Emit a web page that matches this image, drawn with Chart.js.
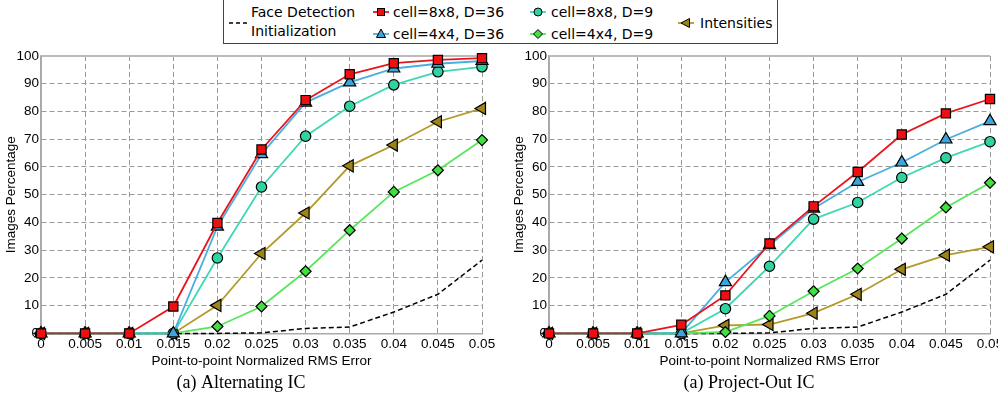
<!DOCTYPE html>
<html>
<head>
<meta charset="utf-8">
<script src="https://cdn.jsdelivr.net/npm/chart.js@4/dist/chart.umd.min.js"></script>
<style>
  body { margin: 0; width: 998px; height: 394px; overflow: hidden; background: #fff; position: relative; }
  canvas { position: absolute; top: 45px; }
  #legend { position: absolute; left: 223px; top: -2px; width: 555px; height: 46px; box-sizing: border-box;
            border: 1px solid #444; background: #fff; font-family: "DejaVu Sans"; font-size: 14px; color: #000; }
  #legend span { position: absolute; line-height: 16px; white-space: nowrap; }
  #legend svg { position: absolute; overflow: visible; }
</style>
</head>
<body>
<div id="legend"></div>
<canvas id="leftChart" width="500" height="349" style="left:0px"></canvas>
<canvas id="rightChart" width="500" height="349" style="left:508px"></canvas>
<script>
// x values (normalized RMS error) and tick labels
var errors = [0, 0.005, 0.01, 0.015, 0.02, 0.025, 0.03, 0.035, 0.04, 0.045, 0.05];
var xTickLabels = ['0', '0.005', '0.01', '0.015', '0.02', '0.025', '0.03', '0.035', '0.04', '0.045', '0.05'];
var yTicks = [0, 10, 20, 30, 40, 50, 60, 70, 80, 90, 100];

var faceDetect = [0, 0, 0, 0, 0, 0.2, 1.8, 2.3, 7.7, 14.1, 26.4];

// (a) Alternating IC
var altCell8D36 = [0, 0, 0, 9.7, 39.8, 66.3, 84.1, 93.4, 97.4, 98.6, 99.2];
var altCell4D36 = [0, 0, 0, 0, 38.5, 64.6, 83.2, 90.5, 95.5, 97.2, 98.2];
var altCell8D9  = [0, 0, 0, 0, 27.2, 52.8, 71.1, 81.9, 89.6, 94.3, 96.1];
var altCell4D9  = [0, 0, 0, 0, 2.5, 9.7, 22.4, 37.2, 51.0, 58.8, 69.7];
var altIntens   = [0, 0, 0, 0, 10.1, 28.8, 43.4, 60.4, 67.9, 76.3, 81.1];

// (a) Project-Out IC
var poCell8D36 = [0, 0, 0, 3.1, 13.7, 32.4, 45.8, 58.2, 71.7, 79.3, 84.5];
var poCell4D36 = [0, 0, 0, 0, 18.5, 31.8, 45.0, 54.6, 61.6, 69.9, 76.5];
var poCell8D9  = [0, 0, 0, 0, 8.9, 24.2, 41.2, 47.2, 56.2, 63.3, 69.1];
var poCell4D9  = [0, 0, 0, 0, 0.5, 6.3, 15.2, 23.4, 34.2, 45.4, 54.3];
var poIntens   = [0, 0, 0, 0, 2.9, 3.2, 7.3, 14.1, 23.1, 28.2, 31.2];

var seriesLabels = ['cell=8x8, D=36', 'cell=4x4, D=36', 'cell=8x8, D=9', 'cell=4x4, D=9', 'Intensities', 'Face Detection Initialization'];

var styles = [
  { line: '#e8161b', fill: '#ee1010', shape: 'rect', r: 6.5, rot: 0 },
  { line: '#4aaee0', fill: '#3da5d9', shape: 'triangle', r: 7, rot: 0 },
  { line: '#3ed8b4', fill: '#2ed3a0', shape: 'circle', r: 5.2, rot: 0 },
  { line: '#55e85a', fill: '#40e040', shape: 'rectRot', r: 5.5, rot: 0 },
  { line: '#b39a2a', fill: '#9c8418', shape: 'triangle', r: 7, rot: -90 }
];

function toPoints(vals) {
  return errors.map(function(x, i) { return { x: x, y: vals[i] }; });
}

function makeChart(id, values, caption) {
  var sets = values.map(function(vals, i) {
    var s = styles[i];
    return {
      label: seriesLabels[i],
      data: toPoints(vals),
      borderColor: s.line,
      borderWidth: 1.8,
      pointStyle: s.shape,
      pointRadius: s.r,
      pointRotation: s.rot,
      pointBackgroundColor: s.fill,
      pointBorderColor: '#000',
      pointBorderWidth: 1.2,
      tension: 0,
      clip: false
    };
  });
  sets.push({
    label: seriesLabels[5],
    data: toPoints(faceDetect),
    borderColor: '#000',
    borderWidth: 1.5,
    borderDash: [5, 3],
    pointRadius: 0,
    tension: 0,
    clip: false
  });

  var tickFont = { family: 'Liberation Sans', size: 13.5 };
  return new Chart(document.getElementById(id), {
    type: 'line',
    data: { datasets: sets },
    options: {
      responsive: false,
      animation: false,
      layout: { padding: { top: 11, right: 18, left: 0, bottom: 0 } },
      plugins: {
        legend: { display: false },
        tooltip: { enabled: false },
        title: {
          display: true, text: caption, position: 'bottom', color: '#000',
          font: { family: 'Liberation Serif', size: 18, weight: 'normal' },
          padding: { top: 3, bottom: 0 }
        }
      },
      scales: {
        x: {
          type: 'linear', min: 0, max: 0.05,
          afterBuildTicks: function(s) { s.ticks = errors.map(function(v) { return { value: v }; }); },
          afterFit: function(s) { s.height = 36; },
          ticks: {
            color: '#000', font: tickFont, padding: 3, maxRotation: 0, autoSkip: false,
            callback: function(v, i) { return xTickLabels[i]; }
          },
          grid: {
            drawTicks: false, lineWidth: 1,
            color: function(c) { return c.tick && c.tick.value === 0 ? '#aaa' : '#999'; }
          },
          border: {
            display: true, color: '#aaa', width: 1.5,
            dash: function(c) { return c.tick && c.tick.value === 0 ? [] : [5, 3]; }
          },
          title: {
            display: true, text: 'Point-to-point Normalized RMS Error', color: '#000',
            font: tickFont, padding: { top: 0, bottom: 0 }
          }
        },
        y: {
          min: 0, max: 100,
          afterBuildTicks: function(s) { s.ticks = yTicks.map(function(v) { return { value: v }; }); },
          afterFit: function(s) { s.width = 41; },
          ticks: { color: '#000', font: tickFont, padding: 2 },
          grid: {
            drawTicks: false,
            color: function(c) { return c.tick && c.tick.value === 100 ? '#bbb' : '#999'; },
            lineWidth: function(c) { return c.tick && c.tick.value === 100 ? 2 : 1; }
          },
          border: {
            display: true, color: '#aaa', width: 1.5,
            dash: function(c) { return c.tick && c.tick.value === 100 ? [] : [5, 3]; }
          },
          title: {
            display: true, text: 'Images Percentage', color: '#000',
            font: tickFont, padding: { top: 3, bottom: 0 }
          }
        }
      }
    }
  });
}

makeChart('leftChart', [altCell8D36, altCell4D36, altCell8D9, altCell4D9, altIntens], '(a) Alternating IC');
makeChart('rightChart', [poCell8D36, poCell4D36, poCell8D9, poCell4D9, poIntens], '(a) Project-Out IC');

// shared legend above both plots
function markerSvg(i) {
  var s = styles[i];
  var m;
  if (s.shape === 'rect') m = '<rect x="-3.5" y="-3.5" width="7" height="7"/>';
  else if (s.shape === 'circle') m = '<circle r="4"/>';
  else if (s.shape === 'rectRot') m = '<polygon points="0,-4.5 4.5,0 0,4.5 -4.5,0"/>';
  else m = '<polygon points="0,-5 4.5,3.5 -4.5,3.5" transform="rotate(' + s.rot + ')"/>';
  return '<line x1="-8" y1="0" x2="8" y2="0" stroke="' + s.line + '" stroke-width="1.8"/>' +
         '<g fill="' + s.fill + '" stroke="#000" stroke-width="1">' + m + '</g>';
}

var legendItems = [
  { i: 0, cx: 157, cy: 11, tx: 169 },
  { i: 1, cx: 157, cy: 33, tx: 169 },
  { i: 2, cx: 314, cy: 11, tx: 327 },
  { i: 3, cx: 314, cy: 33, tx: 327 },
  { i: 4, cx: 462, cy: 22, tx: 476 }
];
var html = '<svg style="left:5px;top:24px" width="18" height="1"><line x1="0" y1="0" x2="18" y2="0" stroke="#000" stroke-width="1.5" stroke-dasharray="4,3"/></svg>' +
  '<span style="left:27px;top:5px">Face Detection</span>' +
  '<span style="left:27px;top:24px">Initialization</span>';
legendItems.forEach(function(it) {
  html += '<svg style="left:' + it.cx + 'px;top:' + (it.cy + 2) + 'px" width="1" height="1">' + markerSvg(it.i) + '</svg>';
  html += '<span style="left:' + it.tx + 'px;top:' + (it.cy - 8 + 2) + 'px">' + seriesLabels[it.i] + '</span>';
});
document.getElementById('legend').innerHTML = html;
</script>
</body>
</html>
